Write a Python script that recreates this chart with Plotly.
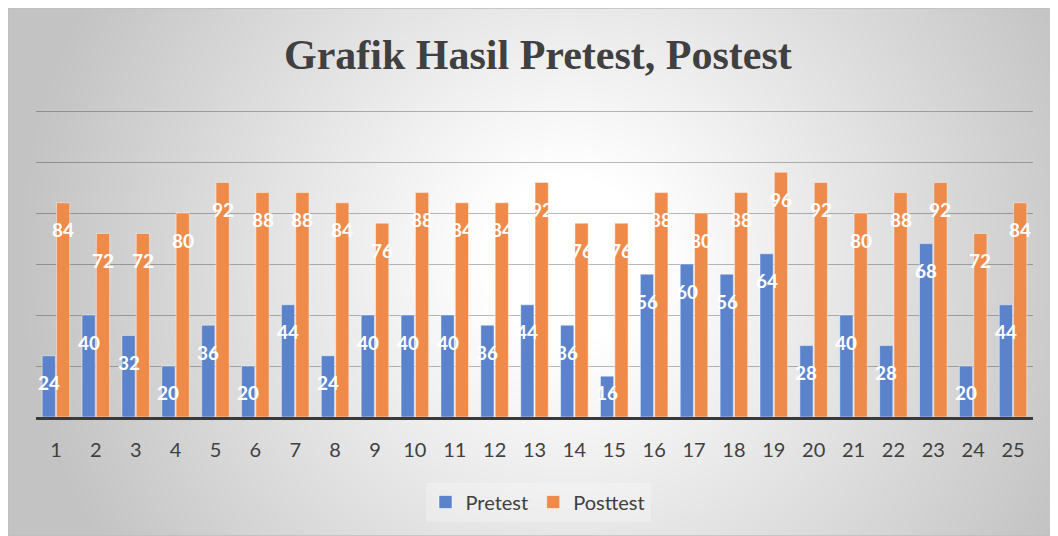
import numpy as np
import plotly.graph_objects as go

# ---- data ----
categories = [str(i) for i in range(1, 26)]
pretest = [24, 40, 32, 20, 36, 20, 44, 24, 40, 40, 40, 36, 44, 36, 16, 56, 60, 56, 64, 28, 40, 28, 68, 20, 44]
posttest = [84, 72, 72, 80, 92, 88, 88, 84, 76, 88, 84, 84, 92, 76, 76, 88, 80, 88, 96, 92, 80, 88, 92, 72, 84]
series_names = ["Pretest", "Posttest"]
title_text = "Grafik Hasil Pretest, Postest"

# ---- style (page offset 8px from default body margin) ----
OFF = 8
W, H = 1058 - OFF, 536 - OFF
BLUE = "rgb(91,131,204)"
ORANGE = "rgb(238,139,75)"
TXT = "#404040"
px_per_unit = (417 - 111) / 120
y_top = 120.6
plot_l, plot_r = 36 - OFF, 1033 - OFF
plot_b = 417 - OFF
plot_t = plot_b - y_top * px_per_unit
BARGAP = 0.28

fig = go.Figure()

# background radial gradient (styling only)
gx = np.linspace(0, W, 90)
gy = np.linspace(0, H, 50)
XX, YY = np.meshgrid(gx, gy)
dist = np.hypot(XX - (570 - OFF), YY - (260 - OFF))
t = np.clip((dist - 80) / 470, 0, 1)
bright = 255 - 60 * t
fig.add_trace(go.Heatmap(x=gx, y=gy, z=bright, zmin=195, zmax=255, zsmooth="best",
                         colorscale=[[0, "rgb(195,195,195)"], [1, "rgb(255,255,255)"]],
                         showscale=False, hoverinfo="skip", xaxis="x", yaxis="y"))

colors = [BLUE, ORANGE]
for name, vals, col in zip(series_names, (pretest, posttest), colors):
    fig.add_trace(go.Bar(name=name, x=categories, y=vals, marker_color=col,
                         marker_line=dict(color="rgba(255,255,255,0.45)", width=1),
                         legendgroup=name, showlegend=False, xaxis="x2", yaxis="y2"))
# legend entries with larger square swatches
for name, col in zip(series_names, colors):
    fig.add_trace(go.Scatter(name=name, x=[None], y=[None], mode="markers", legendgroup=name,
                             marker=dict(symbol="square", size=13, color=col,
                                         line=dict(color="rgba(255,255,255,0.5)", width=1)),
                             xaxis="x2", yaxis="y2"))

# data labels ("inside end")
slot_px = (plot_r - plot_l) / len(categories) * (1 - BARGAP) / 2
label_offset, label_floor = 10.6, 9.8
annotations = []
for vals, sh in ((pretest, -slot_px / 2), (posttest, slot_px / 2)):
    for i, v in enumerate(vals):
        annotations.append(dict(x=i, y=max(v - label_offset, label_floor), xref="x2", yref="y2",
                                text=str(v), showarrow=False, xshift=sh, yanchor="middle",
                                font=dict(family="Lato", size=19, color="white", weight="bold")))

# chart title
annotations.append(dict(text=f"<b>{title_text}</b>", xref="paper", yref="paper",
                        x=(538 - OFF) / W, y=1 - (55 - OFF) / H, xanchor="center", yanchor="middle",
                        showarrow=False,
                        font=dict(family="Liberation Serif", size=42, color=TXT)))

fig.update_layout(
    width=W, height=H,
    margin=dict(l=0, r=0, t=0, b=0),
    paper_bgcolor="white", plot_bgcolor="rgba(0,0,0,0)",
    barmode="group", bargap=BARGAP, bargroupgap=0.08,
    xaxis=dict(domain=[0, 1], range=[0, W], visible=False, fixedrange=True),
    yaxis=dict(domain=[0, 1], range=[H, 0], visible=False, fixedrange=True),
    xaxis2=dict(domain=[plot_l / W, plot_r / W], anchor="y2", type="category", range=[-0.5, len(categories) - 0.5],
                showline=True, linecolor="#3a3a3a", linewidth=2.5, showgrid=False,
                ticks="outside", ticklen=13, tickcolor="rgba(0,0,0,0)",
                tickfont=dict(family="Lato", size=20, color=TXT)),
    yaxis2=dict(domain=[1 - plot_b / H, 1 - plot_t / H], anchor="x2", range=[0, y_top], tick0=0, dtick=20,
                showticklabels=False, showgrid=True, gridcolor="rgba(0,0,0,0.27)", gridwidth=1,
                zeroline=False),
    legend=dict(orientation="h", x=(538 - OFF) / W, xanchor="center", y=1 - (502 - OFF) / H, yanchor="middle",
                bgcolor="rgba(255,255,255,0.25)", font=dict(family="Lato", size=20, color=TXT)),
    annotations=annotations,
    shapes=[dict(type="rect", xref="paper", yref="paper", x0=0, x1=1.0, y0=0, y1=1,
                 line=dict(color="#bfbfbf", width=1.5), layer="above")],
    showlegend=True,
)

fig.write_html("out.html")
